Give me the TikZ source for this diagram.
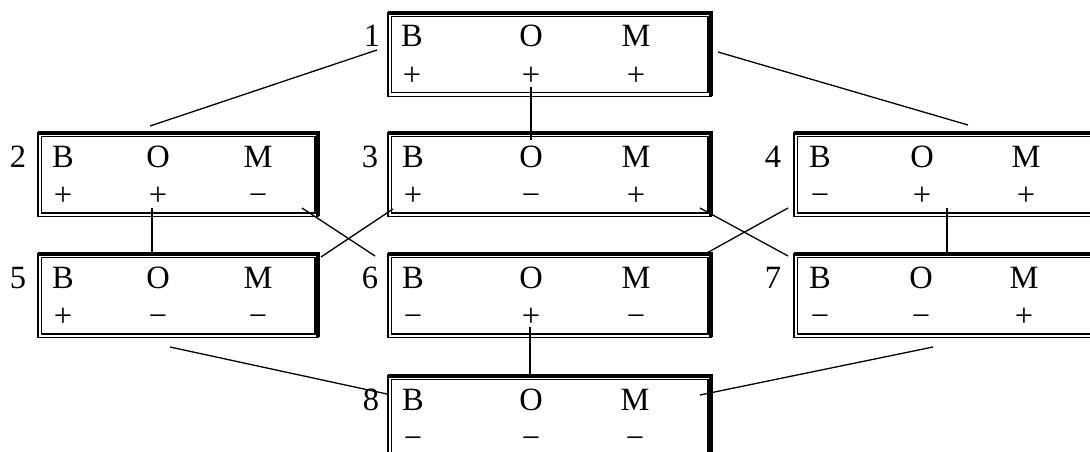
\documentclass[tikz,border=0pt]{standalone}
\usepackage{fontspec}
\setmainfont{Liberation Serif}
\tikzset{
  frameline/.style={line width=1.5pt},
  frameinner/.style={line width=1.2pt},
  framethick/.style={line width=4pt},
  conn/.style={line width=1.3pt},
  txt/.style={anchor=base, inner sep=0pt, font=\fontsize{32.5}{38}\selectfont},
  boxarea/.style={anchor=north west, minimum height=83pt, inner sep=0pt, draw=none}
}
% name, left, top, width, label x, label
\newcommand\bombox[6]{%
  \node[boxarea, minimum width=#4pt] (#1) at (#2,#3) {};
  \draw[frameline] (#1.north west) rectangle (#1.south east);
  \draw[frameinner] ([shift={(3.5,3.5)}]#1.north west) rectangle ([shift={(-3.5,-3.5)}]#1.south east);
  \draw[framethick] (#1.north west) -- (#1.north east) -- (#1.south east);
  \node[txt] (#1l) at (#5,#3+34) {#6};
}
% name, top, xB, xO, xM, s1, s2, s3
\newcommand\bomcols[8]{%
  \node[txt] (#1B) at (#3,#2+34) {B};
  \node[txt] (#1O) at (#4,#2+34) {O};
  \node[txt] (#1M) at (#5,#2+34) {M};
  \node[txt] (#1b) at (#3,#2+72) {#6};
  \node[txt] (#1o) at (#4,#2+72) {#7};
  \node[txt] (#1m) at (#5,#2+72) {#8};
}
\begin{document}
\begin{tikzpicture}[x=1pt,y=-1pt]
\useasboundingbox (0,0) rectangle (1090,452);
\clip (0,0) rectangle (1090,452);
\fill[white] (0,0) rectangle (1090,452);

\bombox{n1}{388}{13}{323}{372}{1}
\bomcols{n1}{13}{412}{531}{636}{+}{+}{+}
\bombox{n2}{38}{133}{280}{18}{2}
\bomcols{n2}{133}{63}{158}{258}{+}{+}{−}
\bombox{n3}{388}{133}{323}{370}{3}
\bomcols{n3}{133}{413}{531}{636}{+}{−}{+}
\bombox{n4}{794}{133}{323}{773}{4}
\bomcols{n4}{133}{820}{922}{1026}{−}{+}{+}
\bombox{n5}{38}{254}{280}{18}{5}
\bomcols{n5}{254}{63}{158}{258}{+}{−}{−}
\bombox{n6}{388}{254}{323}{370}{6}
\bomcols{n6}{254}{413}{531}{636}{−}{+}{−}
\bombox{n7}{794}{254}{323}{773}{7}
\bomcols{n7}{254}{820}{921}{1024}{−}{−}{+}
\bombox{n8}{388}{376}{323}{371}{8}
\bomcols{n8}{376}{413}{531}{635}{−}{−}{−}

% connector end points
\coordinate (c12a) at (377,50);  \coordinate (c12b) at (150,126);
\coordinate (c14a) at (718,52);  \coordinate (c14b) at (968,125);
\coordinate (c13a) at (531,87);  \coordinate (c13b) at (531,140);
\coordinate (c25a) at (152,208); \coordinate (c25b) at (152,255);
\coordinate (c26a) at (302,208); \coordinate (c26b) at (375,256);
\coordinate (c35a) at (393,209); \coordinate (c35b) at (321,257);
\coordinate (c37a) at (700,208); \coordinate (c37b) at (788,256);
\coordinate (c46a) at (788,208); \coordinate (c46b) at (705,254);
\coordinate (c47a) at (947,208); \coordinate (c47b) at (947,255);
\coordinate (c68a) at (530,327); \coordinate (c68b) at (530,375);
\coordinate (c58a) at (170,347); \coordinate (c58b) at (387,394);
\coordinate (c78a) at (933,347); \coordinate (c78b) at (700,395);

\foreach \p in {12,14,13,25,26,35,37,46,47,68,58,78}
  \draw[conn] (c\p a) -- (c\p b);
\end{tikzpicture}
\end{document}
